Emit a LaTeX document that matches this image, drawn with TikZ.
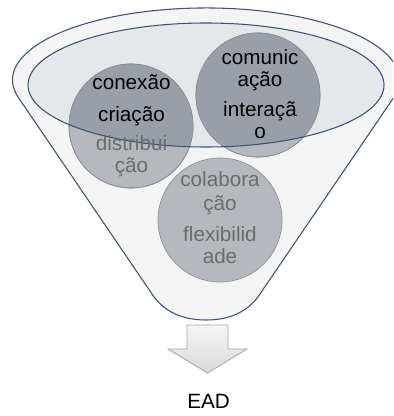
\documentclass[tikz,border=0pt]{standalone}
\usepackage{fontspec}
\setmainfont{Liberation Sans}
\definecolor{edgeblue}{HTML}{3F5173}
\definecolor{funnelfill}{HTML}{F4F4F5}
\definecolor{innerfill}{HTML}{E6E7EA}
\definecolor{circlight}{HTML}{B5B8BD}
\definecolor{circdark}{HTML}{9A9EA6}
\definecolor{circedge}{HTML}{8A8D93}
\definecolor{greytext}{HTML}{6B6B6B}
\definecolor{arrowedge}{HTML}{A3A3A3}
\tikzset{
  funnel/.style={draw=edgeblue, line width=0.8pt, fill=funnelfill},
  opening/.style={draw=edgeblue, line width=0.8pt},
  bubble/.style={circle, draw=circedge, line width=0.5pt, fill=circlight, minimum size=93pt, inner sep=0pt},
  txt/.style={anchor=base, font=\fontsize{15.5pt}{18pt}\selectfont, text=black, inner sep=0pt},
  gtxt/.style={txt, text=greytext},
  downarrow/.style={draw=arrowedge, line width=0.6pt, top color=gray!8, bottom color=gray!30}
}
\begin{document}
\begin{tikzpicture}[x=0.75pt,y=-0.75pt]
\useasboundingbox (0,0) rectangle (393,416);
\clip (0,0) rectangle (393,416);
% funnel body
\draw[funnel] (18.7,98) arc[start angle=165.5, end angle=374.5, x radius=193.5, y radius=72]
  -- (260,294) .. controls (252,306) and (237,320) .. (206,320)
  .. controls (175,320) and (160,306) .. (152,294) -- cycle;
% opening fill
\fill[innerfill] (206,85) ellipse [x radius=178, y radius=62];
% bubbles
\node[bubble] (c1) at (131,126) {};
\node[bubble] (c2) at (258,95) {};
\node[bubble] (c3) at (220,220) {};
\begin{scope}
  \clip (206,85) ellipse [x radius=178, y radius=62];
  \fill[circdark] (131,126) circle [radius=62];
  \fill[circdark] (258,95) circle [radius=62];
\end{scope}
\draw[circedge, line width=0.5pt] (131,126) circle [radius=62];
\draw[circedge, line width=0.5pt] (258,95) circle [radius=62];
% opening outline
\draw[opening] (206,85) ellipse [x radius=178, y radius=62];
% texts
\node[txt] (t1a) at (131.5,90) {conexão};
\node[txt] (t1b) at (131.5,122) {criação};
\node[gtxt] (t1c) at (131.5,151) {distribui};
\node[gtxt] (t1d) at (131.5,173) {ção};
\node[txt] (t2a) at (260,65) {comunic};
\node[txt] (t2b) at (260,87) {ação};
\node[txt] (t2c) at (260,117) {interaçã};
\node[txt] (t2d) at (260,139) {o};
\node[gtxt] (t3a) at (220,187) {colabora};
\node[gtxt] (t3b) at (220,210) {ção};
\node[gtxt] (t3c) at (220,241) {flexibilid};
\node[gtxt] (t3d) at (220,263) {ade};
% arrow
\draw[downarrow] (187,325) -- (228,325) -- (228,349) -- (247,349) -- (207.5,373)
  -- (168,349) -- (187,349) -- cycle;
\node[txt] (ead) at (208.5,408) {EAD};
\end{tikzpicture}
\end{document}
